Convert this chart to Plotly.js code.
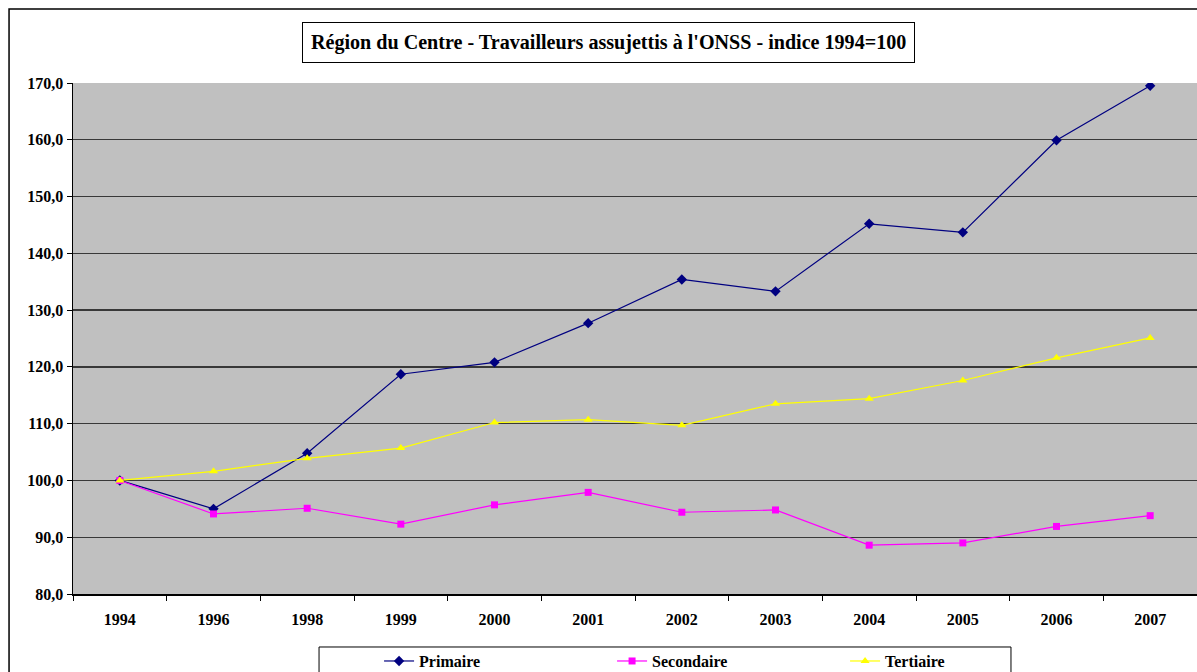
<!DOCTYPE html>
<html>
<head>
<meta charset="utf-8">
<script src="https://cdn.plot.ly/plotly-3.0.1.min.js"></script>
<style>html,body{margin:0;padding:0;background:#fff;overflow:hidden;width:1197px;height:672px}#chart{width:1197px;height:700px}</style>
</head>
<body>
<div id="chart"></div>
<script>
const years = ["1994","1996","1998","1999","2000","2001","2002","2003","2004","2005","2006","2007"];
const primaire = [100.0, 95.0, 104.8, 118.7, 120.8, 127.7, 135.4, 133.3, 145.2, 143.7, 159.9, 169.5];
const secondaire = [100.0, 94.1, 95.1, 92.3, 95.7, 97.9, 94.4, 94.8, 88.6, 89.0, 91.9, 93.8];
const tertiaire = [100.0, 101.6, 103.9, 105.7, 110.2, 110.7, 109.7, 113.5, 114.4, 117.6, 121.6, 125.1];
const yTicks = [80, 90, 100, 110, 120, 130, 140, 150, 160, 170];

const font = "Liberation Serif";

const traces = [
  {x: years, y: primaire, name: "Primaire", type: "scatter", mode: "lines+markers",
   line: {color: "#000080", width: 1.2}, marker: {symbol: "diamond", size: 8, color: "#000080"}},
  {x: years, y: secondaire, name: "Secondaire", type: "scatter", mode: "lines+markers",
   line: {color: "#FF00FF", width: 1.2}, marker: {symbol: "square", size: 7, color: "#FF00FF"}},
  {x: years, y: tertiaire, name: "Tertiaire", type: "scatter", mode: "lines+markers",
   line: {color: "#FFFF00", width: 1.2}, marker: {symbol: "triangle-up", size: 8, color: "#FFFF00"}}
];

const layout = {
  width: 1197, height: 700,
  margin: {l: 73, r: 0, t: 83, b: 106},
  paper_bgcolor: "#ffffff",
  plot_bgcolor: "#C0C0C0",
  separators: ",.",
  font: {family: font, color: "#000", size: 16},
  showlegend: true,
  xaxis: {
    type: "category", range: [-0.5, 11.5],
    showgrid: false, zeroline: false,
    showline: true, linecolor: "#000", linewidth: 1.5,
    ticks: "outside", tickson: "boundaries", ticklen: 5, tickcolor: "#000",
    ticklabelstandoff: 10,
    tickfont: {family: font, size: 16, color: "#000", weight: "bold"}
  },
  yaxis: {
    range: [80, 170], tickvals: yTicks, tickformat: ".1f",
    showgrid: true, gridcolor: "#383838", gridwidth: 1.3,
    zeroline: false,
    showline: true, linecolor: "#000", linewidth: 1.5,
    ticks: "outside", ticklen: 5, tickcolor: "#000",
    tickfont: {family: font, size: 16, color: "#000", weight: "bold"}
  },
  legend: {
    orientation: "h", x: 0.2723, xanchor: "left", y: -0.098, yanchor: "top",
    borderwidth: 0, bgcolor: "rgba(0,0,0,0)",
    entrywidth: 188, entrywidthmode: "pixels",
    font: {family: font, size: 16, color: "#000", weight: "bold"}
  },
  annotations: [{
    xref: "paper", yref: "paper", x: 0.476, y: 1.080, xanchor: "center", yanchor: "middle",
    text: "Région du Centre - Travailleurs assujettis à l'ONSS - indice 1994=100",
    showarrow: false, bordercolor: "#000", borderwidth: 1, borderpad: 8, bgcolor: "#fff",
    font: {family: font, size: 20.1, color: "#000", weight: "bold"}
  }],
  shapes: [{
    type: "rect", xref: "paper", yref: "paper",
    x0: -0.0569, x1: 1.05, y0: -0.3, y1: 1.1448,
    line: {color: "#000", width: 1.5}, fillcolor: "rgba(0,0,0,0)", layer: "below"
  }, {
    type: "rect", xref: "paper", yref: "paper",
    x0: 0.2189, x1: 0.8345, y0: -0.25, y1: -0.1037,
    line: {color: "#000", width: 1}, fillcolor: "rgba(0,0,0,0)", layer: "below"
  }]
};

Plotly.newPlot("chart", traces, layout, {displayModeBar: false, staticPlot: true});
</script>
</body>
</html>
